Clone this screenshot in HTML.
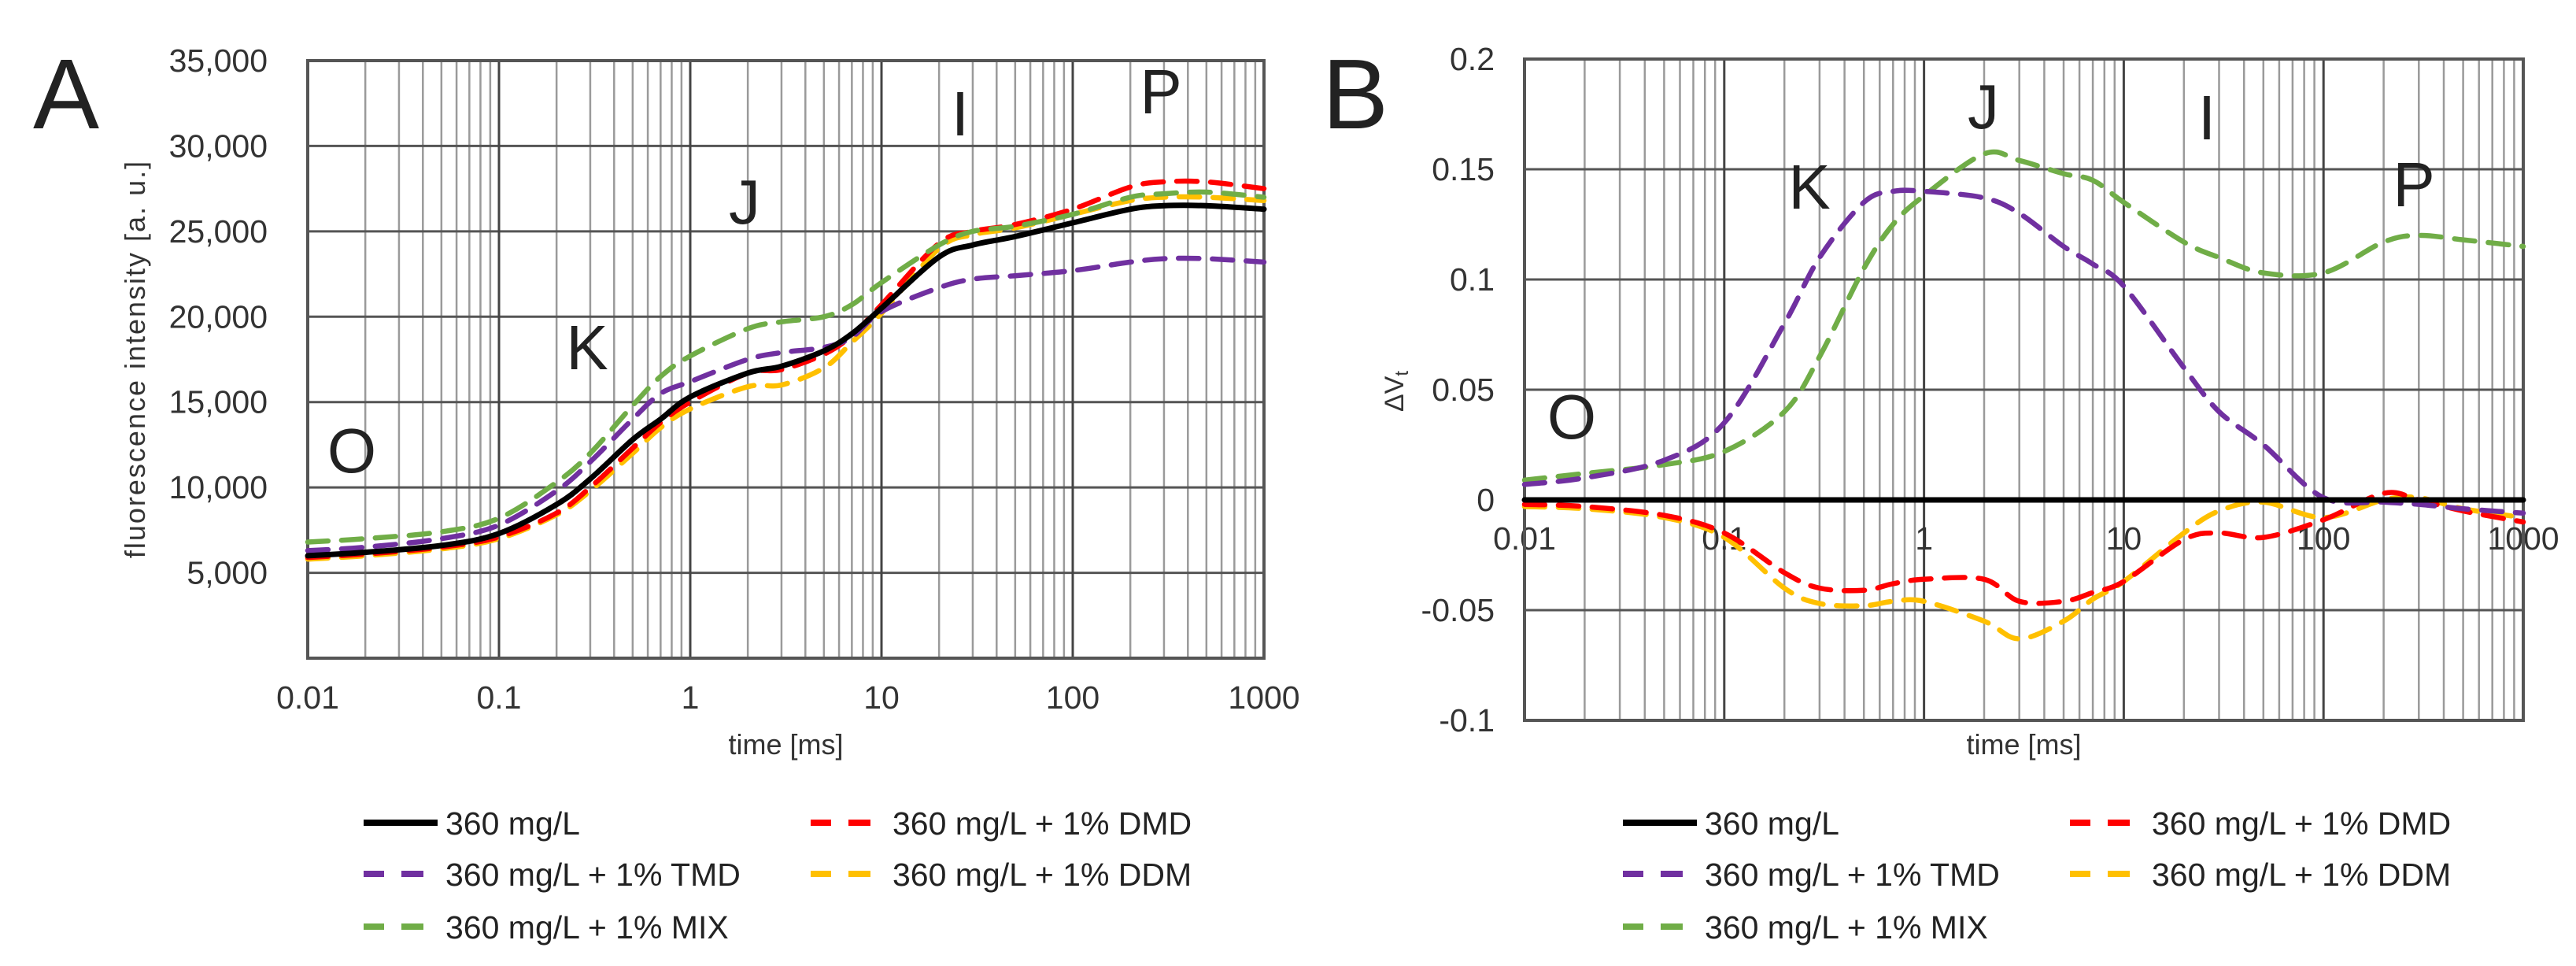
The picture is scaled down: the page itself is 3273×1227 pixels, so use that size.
<!DOCTYPE html>
<html><head><meta charset="utf-8">
<style>
html,body{margin:0;padding:0;background:#fff;}
svg{display:block;font-family:"Liberation Sans",sans-serif;}
</style></head>
<body>
<svg id="fig" width="3273" height="1227" viewBox="0 0 3273 1227" xmlns="http://www.w3.org/2000/svg">
<rect width="3273" height="1227" fill="#fff"/>
<g id="chartA"></g>
<g id="chartB"></g>
</svg>
<script>
const timesA = [0.01,0.02,0.05,0.1,0.2,0.3,0.5,0.7,1,2,3,5,7,10,20,30,50,100,200,300,500,1000];
const a_ctrl = [6000,6200,6600,7300,9000,10500,12800,14000,15300,16700,17100,18000,19000,20500,23500,24200,24700,25500,26300,26500,26500,26300];
const a_dmd  = [5900,6100,6500,7100,8500,10000,12300,13800,15000,16700,16900,17800,18900,20700,24300,25000,25400,26300,27600,27900,27900,27500];
const a_ddm  = [5800,6000,6400,7000,8400,9800,12000,13500,14600,15900,16000,17000,18500,20200,24000,24800,25200,26000,26800,27000,27000,26800];
const a_tmd  = [6300,6500,7000,7800,9800,11500,14000,15500,16200,17500,17900,18200,18800,20300,21700,22200,22400,22700,23200,23400,23400,23200];
const a_mix  = [6800,7000,7400,8200,10300,12000,14800,16500,17700,19300,19700,20000,20700,22000,24200,25000,25300,26000,27000,27200,27300,27000];
const b_ctrl = [0,0,0,0,0,0,0,0,0,0,0,0,0,0,0,0,0,0,0,0,0,0];
const b_tmd  = [0.007,0.01,0.018,0.035,0.08,0.11,0.135,0.14,0.14,0.137,0.13,0.115,0.107,0.097,0.06,0.04,0.025,0.001,-0.001,-0.002,-0.004,-0.006];
const b_mix  = [0.009,0.012,0.016,0.022,0.04,0.065,0.105,0.125,0.138,0.157,0.154,0.148,0.145,0.135,0.117,0.11,0.103,0.103,0.117,0.12,0.118,0.115];
const b_dmd  = [-0.002,-0.003,-0.007,-0.015,-0.033,-0.04,-0.041,-0.038,-0.036,-0.036,-0.046,-0.046,-0.042,-0.037,-0.018,-0.015,-0.017,-0.009,0.003,0,-0.005,-0.01];
const b_ddm  = [-0.003,-0.004,-0.008,-0.017,-0.04,-0.047,-0.048,-0.046,-0.046,-0.055,-0.063,-0.055,-0.045,-0.037,-0.015,-0.005,-0.001,-0.008,0,0.001,-0.004,-0.008];
const xTicks = ["0.01","0.1","1","10","100","1000"];
const yTicksA = ["5,000","10,000","15,000","20,000","25,000","30,000","35,000"];
const yTicksB = ["-0.1","-0.05","0","0.05","0.1","0.15","0.2"];
const legendLabels = ["360 mg/L","360 mg/L + 1% DMD","360 mg/L + 1% TMD","360 mg/L + 1% DDM","360 mg/L + 1% MIX"];

const NS="http://www.w3.org/2000/svg";
function mk(parent,tag,attrs){const e=document.createElementNS(NS,tag);for(const k in attrs)e.setAttribute(k,attrs[k]);parent.appendChild(e);return e;}
const COL={ctrl:"#000",dmd:"#ff0000",tmd:"#7030a0",ddm:"#ffc000",mix:"#70ad47"};

function smoothPath(pts){
  let d="M"+pts[0][0].toFixed(1)+","+pts[0][1].toFixed(1);
  for(let i=0;i<pts.length-1;i++){
    const p0=pts[Math.max(0,i-1)],p1=pts[i],p2=pts[i+1],p3=pts[Math.min(pts.length-1,i+2)];
    const c1=[p1[0]+(p2[0]-p0[0])/6,p1[1]+(p2[1]-p0[1])/6];
    const c2=[p2[0]-(p3[0]-p1[0])/6,p2[1]-(p3[1]-p1[1])/6];
    d+=" C"+c1[0].toFixed(1)+","+c1[1].toFixed(1)+" "+c2[0].toFixed(1)+","+c2[1].toFixed(1)+" "+p2[0].toFixed(1)+","+p2[1].toFixed(1);
  }
  return d;
}

function drawChart(g,cfg){
  const {L,R,T,B,ymin,ymax}=cfg;
  const xs=v=>L+(Math.log10(v)+2)/5*(R-L);
  const ys=v=>B-(v-ymin)/(ymax-ymin)*(B-T);
  for(let d=-2;d<3;d++){for(let m=2;m<=9;m++){const x=xs(m*Math.pow(10,d));
    const l=mk(g,"line",{x1:x,x2:x,y1:T,y2:B,stroke:"#9a9a9a","stroke-width":2.5});
    
    }}
  cfg.yt.forEach((t,i)=>{const v=ymin+(i+(cfg.yOff||0))*cfg.ystep;const y=ys(v);
    const l=mk(g,"line",{x1:L,x2:R,y1:y,y2:y,stroke:"#555","stroke-width":3});
    
    
    const tx=mk(g,"text",{x:cfg.ytx,y:y+14,"text-anchor":"end","font-size":41,fill:"#333"});
    tx.textContent=t;
    
    
  });
  xTicks.forEach((t,i)=>{const x=xs(Math.pow(10,i-2));
    const l=mk(g,"line",{x1:x,x2:x,y1:T,y2:B,stroke:"#444","stroke-width":3});
    
    
    const tx=mk(g,"text",{x:x,y:cfg.xty,"text-anchor":"middle","font-size":41,fill:"#333"});
    tx.textContent=t;
    
    
  });
  const fr=mk(g,"rect",{x:L,y:T,width:R-L,height:B-T,fill:"none",stroke:"#555","stroke-width":4});
  
  
  cfg.series.forEach(s=>{
    const pts=timesA.map((t,i)=>[xs(t),ys(s.v[i])]);
    const p=mk(g,"path",{d:smoothPath(pts),fill:"none",stroke:COL[s.k],"stroke-width":s.k==="ctrl"?7:6.5,"stroke-dasharray":s.k==="ctrl"?"none":"26 17","stroke-linecap":"round"});
    
    
  });
  cfg.letters.forEach(l=>{const tx=mk(g,"text",{x:l[1],y:l[2]+29,"text-anchor":"middle","font-size":80,fill:"#222"});
    tx.textContent=l[0];
    
    });
  const pl=mk(g,"text",{x:cfg.pl[0],y:cfg.pl[1],"font-size":126,fill:"#222"});
  pl.textContent=cfg.pl[2];
  
  
  const xt=mk(g,"text",{x:(L+R)/2,y:958,"text-anchor":"middle","font-size":36,fill:"#333"});
  xt.textContent="time [ms]";
  
  
  const keys=["ctrl","dmd","tmd","ddm","mix"];
  const rows=[1045,1045,1110,1110,1177];
  keys.forEach((k,i)=>{
    const col=i===0?0:(i%2===1?1:0);
    const mx=col===0?cfg.lgx[0]:cfg.lgx[1];
    const tx0=mx+104;
    const y=rows[i];
    const lg=mk(g,"g",{});
    
    
    if(k==="ctrl"){mk(lg,"line",{x1:mx,x2:mx+94,y1:y,y2:y,stroke:"#000","stroke-width":8});}
    else{mk(lg,"line",{x1:mx,x2:mx+26,y1:y,y2:y,stroke:COL[k],"stroke-width":8});
         mk(lg,"line",{x1:mx+48,x2:mx+76,y1:y,y2:y,stroke:COL[k],"stroke-width":8});}
    const t=mk(lg,"text",{x:tx0,y:y+15,"font-size":41,fill:"#222"});
    t.textContent=legendLabels[i];
  });
}

drawChart(document.getElementById("chartA"),{
  L:391,R:1606,T:77,B:836,ymin:0,ymax:35000,ystep:5000,yOff:1,yt:yTicksA,ytx:340,xty:900,
  series:[{k:"ddm",v:a_ddm},{k:"dmd",v:a_dmd},{k:"mix",v:a_mix},{k:"tmd",v:a_tmd},{k:"ctrl",v:a_ctrl}],
  letters:[["O",447,571],["K",746,440],["J",946,255],["I",1220,143],["P",1475,115]],
  pl:[42,163,"A"],lgx:[462,1030]
});
drawChart(document.getElementById("chartB"),{
  L:1937,R:3206,T:75,B:915,ymin:-0.1,ymax:0.2,ystep:0.05,yOff:0,yt:yTicksB,ytx:1899,xty:698,
  series:[{k:"ddm",v:b_ddm},{k:"dmd",v:b_dmd},{k:"mix",v:b_mix},{k:"tmd",v:b_tmd},{k:"ctrl",v:b_ctrl}],
  letters:[["O",1997,528],["K",2299,236],["J",2520,134],["I",2804,148],["P",3067,233]],
  pl:[1680,163,"B"],lgx:[2062,2630]
});
const svg=document.getElementById("fig");
const ya=mk(svg,"text",{x:0,y:0,"text-anchor":"middle","font-size":36,fill:"#333",transform:"translate(184,456) rotate(-90)","letter-spacing":"2"});
ya.textContent="fluorescence intensity [a. u.]";


const yb=mk(svg,"text",{x:0,y:0,"text-anchor":"middle","font-size":34,fill:"#333",transform:"translate(1783,497) rotate(-90)"});
yb.innerHTML='ΔV<tspan font-size="24" dy="6">t</tspan>';


</script>
</body></html>
